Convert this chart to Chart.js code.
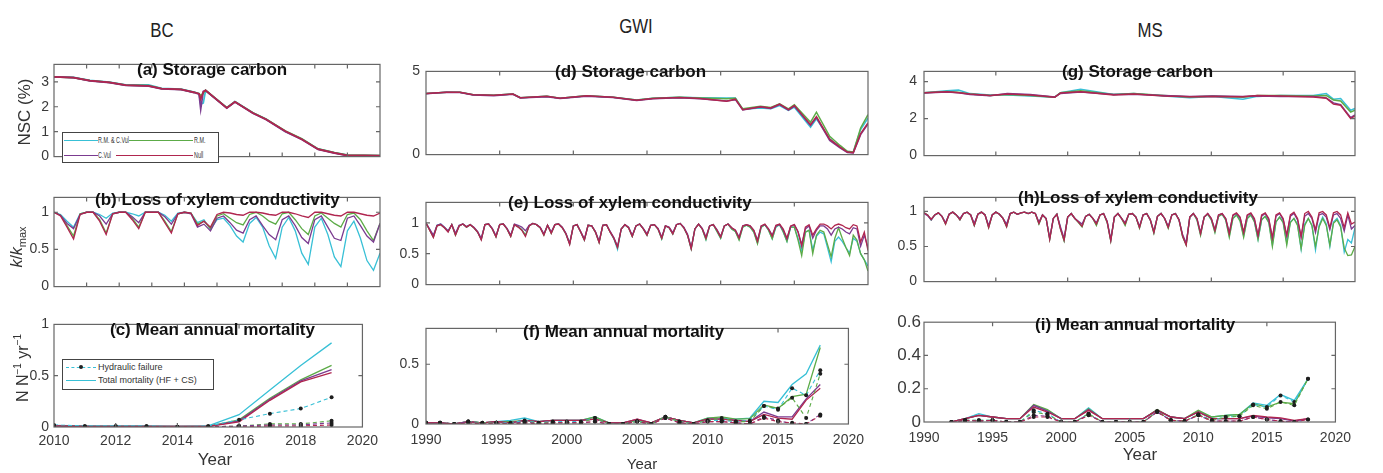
<!DOCTYPE html>
<html lang="en">
<head>
<meta charset="UTF-8">
<title>Storage carbon, xylem conductivity and mortality</title>
<script src="https://cdn.jsdelivr.net/npm/chart.js"></script>
<style>
  body { margin: 0; background: #fff; width: 1383px; height: 473px; position: relative; overflow: hidden;
         font-family: 'Liberation Sans', Arial, sans-serif; color: #222; }
  canvas { position: absolute; }
  .t { position: absolute; white-space: nowrap; }
  .hdr { font-size: 21px; transform: translate(-50%, -50%) scaleX(0.8); }
  .pt { font-size: 17px; font-weight: bold; color: #111; line-height: 20px; }
  .yt { font-size: 16px; color: #333; transform: translate(-50%, -50%) rotate(-90deg); }
  .xt { font-size: 16px; color: #333; transform: translate(-50%, -50%); }
  .leg { position: absolute; border: 1px solid #444; background: #fff; }
  .li { position: absolute; height: 0; }
  .lt { position: absolute; font-size: 9px; color: #333; white-space: nowrap; line-height: 10px; transform-origin: left center; }
  .dot { position: absolute; width: 4px; height: 4px; border-radius: 2px; background: #222; }
</style>
</head>
<body>

<div class="t hdr" style="left:162px;top:30px">BC</div>
<div class="t hdr" style="left:636px;top:26px">GWI</div>
<div class="t hdr" style="left:1150px;top:30px">MS</div>

<canvas id="pa" width="380" height="119" style="left:4px;top:51px"></canvas>
<canvas id="pb" width="380" height="116" style="left:4px;top:184px"></canvas>
<canvas id="pc" width="380" height="142" style="left:4px;top:311px"></canvas>
<canvas id="pd" width="488" height="112" style="left:384px;top:57px"></canvas>
<canvas id="pe" width="488" height="113" style="left:384px;top:187px"></canvas>
<canvas id="pf" width="488" height="137" style="left:384px;top:313px"></canvas>
<canvas id="pg" width="481" height="115" style="left:878px;top:56px"></canvas>
<canvas id="ph" width="481" height="115" style="left:878px;top:182px"></canvas>
<canvas id="pi" width="481" height="139" style="left:878px;top:309px"></canvas>

<div class="t pt" style="left:137px;top:60px">(a) Storage carbon</div>
<div class="t pt" style="left:95px;top:190px">(b) Loss of xylem conductivity</div>
<div class="t pt" style="left:110px;top:320px">(c) Mean annual mortality</div>
<div class="t pt" style="left:555px;top:62px">(d) Storage carbon</div>
<div class="t pt" style="left:508px;top:193px">(e) Loss of xylem conductivity</div>
<div class="t pt" style="left:523px;top:322px">(f) Mean annual mortality</div>
<div class="t pt" style="left:1062px;top:62px">(g) Storage carbon</div>
<div class="t pt" style="left:1018px;top:188px">(h)Loss of xylem conductivity</div>
<div class="t pt" style="left:1035px;top:315px">(i) Mean annual mortality</div>

<div class="t yt" style="left:25px;top:112px;font-size:17px">NSC (%)</div>
<div class="t yt" style="left:18px;top:247px"><i>k</i>/<i>k</i><sub style="font-size:11px">max</sub></div>
<div class="t yt" style="left:22px;top:368px">N N<sup style="font-size:10px">−1</sup> yr<sup style="font-size:10px">−1</sup></div>
<div class="t xt" style="left:215px;top:460px;font-size:17px">Year</div>
<div class="t xt" style="left:642px;top:463px;font-size:15px">Year</div>
<div class="t xt" style="left:1140px;top:455px;font-size:17px">Year</div>

<!-- legend of panel (a) -->
<div class="leg" style="left:62px;top:132px;width:155px;height:29px">
  <div class="li" style="left:1px;top:7px;width:34px;border-top:1.5px solid #38c0d6"></div>
  <div class="lt" style="left:35px;top:2px;transform:scaleX(0.6)">R.M. &amp; C.Vul</div>
  <div class="li" style="left:66px;top:7px;width:64px;border-top:1.5px solid #5cab47"></div>
  <div class="lt" style="left:131px;top:2px;transform:scaleX(0.6)">R.M.</div>
  <div class="li" style="left:1px;top:22px;width:34px;border-top:1.5px solid #7b3b90"></div>
  <div class="lt" style="left:35px;top:17px;transform:scaleX(0.6)">C.Vul</div>
  <div class="li" style="left:53px;top:22px;width:77px;border-top:1.5px solid #b0264f"></div>
  <div class="lt" style="left:131px;top:17px;transform:scaleX(0.6)">Null</div>
</div>

<!-- legend of panel (c) -->
<div class="leg" style="left:62px;top:359px;width:150px;height:29px">
  <div class="li" style="left:3px;top:7px;width:30px;border-top:1.5px dashed #38c0d6"></div>
  <div class="dot" style="left:16px;top:5px"></div>
  <div class="lt" style="left:35px;top:2px">Hydraulic failure</div>
  <div class="li" style="left:3px;top:20px;width:30px;border-top:1.5px solid #38c0d6"></div>
  <div class="lt" style="left:35px;top:15px">Total mortality (HF + CS)</div>
</div>

<script>
// ---------- BC (2010-2020) ----------
const aYears = [2010, 2010.6, 2011.1, 2011.7, 2012.2, 2012.9, 2013.3, 2013.9, 2014.3, 2014.45, 2014.5, 2014.58,
                2014.65, 2015.3, 2015.55, 2016.1, 2016.5, 2017.1, 2017.6, 2018.1, 2018.6, 2019.0, 2019.5, 2020];
const aNull = [3.2, 3.17, 3.05, 2.98, 2.87, 2.84, 2.73, 2.7, 2.58, 2.52, 2.3, 2.6, 2.66, 1.95, 2.2, 1.75, 1.5, 1.02, 0.7, 0.3, 0.15, 0.05, 0.05, 0.04];
const aCVul = [3.2, 3.17, 3.04, 2.97, 2.86, 2.83, 2.72, 2.69, 2.57, 2.5, 1.9, 2.62, 2.65, 1.94, 2.19, 1.74, 1.49, 1.0, 0.69, 0.29, 0.14, 0.04, 0.03, 0.03];
const aRM = [3.2, 3.17, 3.05, 2.98, 2.87, 2.85, 2.73, 2.7, 2.58, 2.52, 2.45, 2.55, 2.66, 1.96, 2.2, 1.76, 1.51, 1.03, 0.72, 0.31, 0.16, 0.06, 0.05, 0.04];
const aRMCV = [3.2, 3.18, 3.06, 2.99, 2.88, 2.88, 2.74, 2.71, 2.59, 2.53, 2.1, 2.15, 2.65, 1.96, 2.21, 1.76, 1.51, 1.01, 0.71, 0.31, 0.16, 0.06, 0.05, 0.04];

// k/kmax sampled every 0.2 yr from 2010
const bStart = 2010, bStep = 0.2;
const bNull = [1.0, 0.95, 0.8, 0.64, 0.97, 1.0, 1.0, 0.88, 0.7, 0.98, 1.0, 1.0, 0.9, 0.78, 1.0, 1.0, 1.0, 0.86, 0.72, 0.98,
               1.0, 0.99, 0.82, 0.88, 0.8, 0.97, 1.0, 0.99, 0.97, 0.96, 1.0, 1.0, 0.99, 0.97, 0.96, 1.0, 1.0, 0.98, 0.95, 0.93,
               1.0, 1.0, 0.98, 0.96, 0.95, 1.0, 1.0, 0.98, 0.96, 0.95, 0.99];
const bCVul = [1.0, 0.96, 0.85, 0.78, 0.97, 1.0, 1.0, 0.95, 0.84, 0.98, 1.0, 1.0, 0.94, 0.86, 1.0, 1.0, 1.0, 0.94, 0.84, 0.98,
               1.0, 0.98, 0.8, 0.84, 0.75, 0.92, 0.95, 0.86, 0.76, 0.72, 0.9, 0.95, 0.82, 0.7, 0.63, 0.9, 0.95, 0.82, 0.66, 0.58,
               0.9, 0.95, 0.8, 0.65, 0.62, 0.92, 0.95, 0.82, 0.68, 0.6, 0.85];
const bRM = [1.0, 0.96, 0.82, 0.68, 0.98, 1.0, 1.0, 0.9, 0.72, 0.98, 1.0, 1.0, 0.92, 0.8, 1.0, 1.0, 1.0, 0.88, 0.74, 0.98,
             1.0, 0.99, 0.84, 0.88, 0.78, 0.95, 0.98, 0.92, 0.86, 0.83, 0.97, 1.0, 0.95, 0.88, 0.84, 0.98, 1.0, 0.9, 0.78, 0.7,
             0.95, 0.99, 0.92, 0.85, 0.8, 0.97, 0.99, 0.9, 0.75, 0.62, 0.85];
const bRMCV = [1.0, 0.97, 0.88, 0.8, 0.98, 1.0, 1.0, 0.97, 0.92, 0.99, 1.0, 1.0, 0.98, 0.95, 1.0, 1.0, 1.0, 0.96, 0.88, 0.99,
               1.0, 0.99, 0.86, 0.9, 0.77, 0.9, 0.92, 0.82, 0.68, 0.6, 0.85, 0.93, 0.8, 0.55, 0.38, 0.8, 0.93, 0.75, 0.45, 0.3,
               0.8, 0.92, 0.7, 0.4, 0.27, 0.75, 0.88, 0.65, 0.35, 0.22, 0.45];

const cYears = [2010, 2011, 2012, 2013, 2014, 2015, 2016, 2017, 2018, 2019];
const cTotNull = [0.01, 0.005, 0.005, 0.005, 0.005, 0.005, 0.05, 0.26, 0.44, 0.53];
const cTotCVul = [0.01, 0.005, 0.005, 0.005, 0.005, 0.005, 0.06, 0.27, 0.45, 0.56];
const cTotRM = [0.01, 0.005, 0.005, 0.005, 0.005, 0.005, 0.07, 0.28, 0.46, 0.6];
const cTotRMCV = [0.015, 0.01, 0.01, 0.01, 0.005, 0.01, 0.12, 0.36, 0.6, 0.82];
const cHfNull = [0.01, 0.0, 0.0, 0.0, 0.0, 0.0, 0.0, 0.01, 0.01, 0.02];
const cHfCVul = [0.01, 0.0, 0.0, 0.0, 0.0, 0.0, 0.01, 0.02, 0.02, 0.04];
const cHfRM = [0.01, 0.0, 0.0, 0.0, 0.0, 0.0, 0.01, 0.03, 0.03, 0.06];
const cHfRMCV = [0.02, 0.01, 0.01, 0.01, 0.0, 0.01, 0.07, 0.13, 0.18, 0.29];

// ---------- GWI (1990-2020) ----------
const dYears = [1990, 1991.4, 1992.3, 1993.2, 1994.6, 1995.9, 1996.4, 1998.2, 1999.1, 2000.9, 2002.7, 2004.3, 2005.4, 2007.2, 2008.6,
                2010.4, 2011.0, 2011.5, 2012.7, 2013.4, 2014.0, 2014.6, 2015.0, 2016.1, 2016.5, 2017.4, 2018.1, 2018.6, 2019.0, 2019.5, 2020];
const dNull = [3.67, 3.75, 3.75, 3.6, 3.56, 3.64, 3.42, 3.5, 3.39, 3.53, 3.45, 3.27, 3.37, 3.43, 3.37, 3.2, 3.33, 2.7, 2.88, 2.8, 3.03, 2.7, 2.95, 1.8, 2.28, 0.93, 0.45, 0.15, 0.12, 1.26, 1.9];
const dCVul = [3.66, 3.74, 3.73, 3.58, 3.54, 3.62, 3.4, 3.48, 3.37, 3.51, 3.43, 3.25, 3.35, 3.41, 3.35, 3.22, 3.3, 2.68, 2.86, 2.77, 3.0, 2.68, 2.92, 1.75, 2.22, 0.85, 0.4, 0.12, 0.1, 1.2, 1.85];
const dRM = [3.67, 3.75, 3.75, 3.6, 3.56, 3.64, 3.42, 3.5, 3.39, 3.53, 3.45, 3.28, 3.38, 3.44, 3.4, 3.35, 3.38, 2.75, 2.9, 2.83, 3.05, 2.75, 3.0, 1.95, 2.55, 1.1, 0.55, 0.2, 0.15, 1.6, 2.4];
const dRMCV = [3.67, 3.75, 3.75, 3.6, 3.56, 3.64, 3.42, 3.5, 3.39, 3.53, 3.45, 3.28, 3.38, 3.44, 3.42, 3.4, 3.4, 2.72, 2.8, 2.75, 2.95, 2.65, 2.85, 1.65, 2.15, 0.95, 0.45, 0.18, 0.15, 1.5, 2.2];

// k/kmax sampled every quarter from 1990 (one group of four per year)
const qStart = 1990, qStep = 0.25;
const eNull = [
  1.0, 0.88, 0.76, 0.95,  0.97, 0.92, 0.85, 0.97,  0.8, 0.95, 0.98, 0.93,  0.97, 0.92, 0.85, 0.72,  0.97, 0.98, 0.9, 0.77,
  0.97, 0.98, 0.9, 0.78,  0.97, 0.93, 0.88, 0.78,  0.95, 0.99, 0.97, 0.92,  0.8, 0.96, 0.83, 0.97,  0.98, 0.92, 0.82, 0.65,
  0.95, 0.97, 0.85, 0.72,  0.96, 0.95, 0.85, 0.68,  0.96, 0.97, 0.85, 0.75,  0.6, 0.9, 0.97, 0.92,  0.78, 0.95, 0.98, 0.9,
  0.8, 0.96, 0.97, 0.9,  0.75, 0.95, 0.92, 0.82,  0.97, 0.99, 0.92, 0.8,  0.58, 0.9, 0.98, 0.9,  0.75, 0.95, 0.97, 0.88,
  0.77, 0.95, 0.98, 0.92,  0.88, 0.75, 0.95, 0.97,  0.95, 0.88, 0.7, 0.95,  0.98, 0.9, 0.78, 0.96,  0.98, 0.9, 0.75, 0.95,
  0.97, 0.85, 0.62, 0.93,  0.97, 0.8, 0.9, 0.98,  0.98, 0.95, 0.9, 0.96,  0.98, 0.96, 0.92, 0.9,  0.97, 0.95, 0.69, 0.85,
  0.55];
const eCVul = [
  0.99, 0.9, 0.8, 0.96,  0.98, 0.93, 0.87, 0.97,  0.83, 0.96, 0.98, 0.94,  0.97, 0.93, 0.86, 0.75,  0.97, 0.98, 0.91, 0.79,
  0.97, 0.98, 0.91, 0.8,  0.98, 0.96, 0.93, 0.87,  0.96, 0.99, 0.97, 0.93,  0.82, 0.96, 0.85, 0.97,  0.98, 0.93, 0.83, 0.67,
  0.95, 0.97, 0.86, 0.74,  0.96, 0.95, 0.86, 0.7,  0.96, 0.97, 0.86, 0.76,  0.62, 0.9, 0.97, 0.93,  0.8, 0.95, 0.98, 0.91,
  0.82, 0.96, 0.97, 0.91,  0.77, 0.95, 0.93, 0.84,  0.97, 0.99, 0.93, 0.82,  0.6, 0.9, 0.98, 0.91,  0.77, 0.95, 0.97, 0.89,
  0.78, 0.95, 0.98, 0.92,  0.88, 0.77, 0.95, 0.97,  0.95, 0.88, 0.72, 0.95,  0.97, 0.9, 0.8, 0.95,  0.97, 0.88, 0.74, 0.94,
  0.97, 0.86, 0.65, 0.9,  0.95, 0.75, 0.88, 0.95,  0.95, 0.9, 0.8, 0.9,  0.93, 0.9, 0.85, 0.82,  0.92, 0.9, 0.62, 0.8,
  0.6];
const eRM = [
  1.0, 0.88, 0.77, 0.95,  0.97, 0.92, 0.86, 0.97,  0.8, 0.95, 0.98, 0.93,  0.97, 0.92, 0.85, 0.73,  0.97, 0.98, 0.9, 0.77,
  0.97, 0.98, 0.9, 0.78,  0.97, 0.94, 0.89, 0.8,  0.95, 0.99, 0.97, 0.92,  0.8, 0.96, 0.83, 0.97,  0.98, 0.92, 0.82, 0.66,
  0.95, 0.97, 0.85, 0.72,  0.96, 0.95, 0.85, 0.68,  0.96, 0.97, 0.85, 0.75,  0.6, 0.9, 0.97, 0.92,  0.78, 0.95, 0.98, 0.9,
  0.8, 0.96, 0.97, 0.9,  0.74, 0.95, 0.92, 0.82,  0.97, 0.99, 0.92, 0.8,  0.58, 0.9, 0.98, 0.9,  0.73, 0.95, 0.97, 0.86,
  0.75, 0.95, 0.98, 0.9,  0.86, 0.72, 0.93, 0.96,  0.93, 0.85, 0.66, 0.93,  0.97, 0.88, 0.74, 0.94,  0.97, 0.85, 0.7, 0.93,
  0.93, 0.72, 0.47, 0.85,  0.88, 0.5, 0.8, 0.88,  0.85, 0.65, 0.45, 0.75,  0.92, 0.75, 0.6, 0.47,  0.8, 0.72, 0.5, 0.4,
  0.22];
const eRMCV = [
  1.0, 0.89, 0.78, 0.96,  0.98, 0.93, 0.86, 0.97,  0.81, 0.95, 0.98, 0.93,  0.97, 0.92, 0.85, 0.73,  0.97, 0.98, 0.9, 0.78,
  0.97, 0.98, 0.9, 0.79,  0.97, 0.94, 0.89, 0.8,  0.95, 0.99, 0.97, 0.92,  0.81, 0.96, 0.84, 0.97,  0.98, 0.92, 0.82, 0.66,
  0.95, 0.97, 0.85, 0.72,  0.96, 0.95, 0.85, 0.69,  0.96, 0.97, 0.85, 0.74,  0.57, 0.9, 0.97, 0.92,  0.78, 0.95, 0.98, 0.9,
  0.8, 0.96, 0.97, 0.9,  0.74, 0.95, 0.92, 0.82,  0.97, 0.99, 0.92, 0.8,  0.58, 0.9, 0.98, 0.9,  0.73, 0.95, 0.97, 0.86,
  0.75, 0.95, 0.98, 0.9,  0.86, 0.73, 0.93, 0.96,  0.93, 0.85, 0.67, 0.93,  0.97, 0.88, 0.74, 0.93,  0.97, 0.85, 0.7, 0.93,
  0.93, 0.75, 0.55, 0.85,  0.88, 0.56, 0.78, 0.85,  0.82, 0.6, 0.37, 0.7,  0.77, 0.7, 0.6, 0.51,  0.75, 0.7, 0.5, 0.4,
  0.3];

const fYears = [1990, 1991, 1992, 1993, 1994, 1995, 1996, 1997, 1998, 1999, 2000, 2001, 2002, 2003, 2004,
                2005, 2006, 2007, 2008, 2009, 2010, 2011, 2012, 2013, 2014, 2015, 2016, 2017, 2018];
const fTotNull = [0.01, 0.01, 0.0, 0.02, 0.01, 0.02, 0.01, 0.03, 0.02, 0.03, 0.03, 0.03, 0.04, 0.01, 0.01, 0.04, 0.01, 0.06, 0.03, 0.01, 0.04, 0.04, 0.03, 0.02, 0.08, 0.05, 0.04, 0.2, 0.3];
const fTotCVul = [0.01, 0.01, 0.0, 0.02, 0.01, 0.02, 0.01, 0.03, 0.02, 0.03, 0.03, 0.03, 0.04, 0.01, 0.01, 0.04, 0.01, 0.06, 0.03, 0.01, 0.04, 0.04, 0.03, 0.02, 0.1, 0.06, 0.06, 0.21, 0.33];
const fTotRM = [0.01, 0.01, 0.0, 0.02, 0.01, 0.02, 0.02, 0.03, 0.02, 0.03, 0.03, 0.03, 0.06, 0.01, 0.01, 0.03, 0.01, 0.06, 0.03, 0.01, 0.05, 0.06, 0.04, 0.045, 0.16, 0.13, 0.23, 0.25, 0.64];
const fTotRMCV = [0.01, 0.01, 0.0, 0.02, 0.01, 0.02, 0.03, 0.05, 0.02, 0.03, 0.03, 0.03, 0.06, 0.01, 0.01, 0.03, 0.01, 0.06, 0.03, 0.01, 0.05, 0.05, 0.04, 0.05, 0.19, 0.18, 0.33, 0.42, 0.66];
const fHfNull = [0.01, 0.01, 0.0, 0.01, 0.0, 0.01, 0.0, 0.01, 0.0, 0.01, 0.01, 0.01, 0.02, 0.0, 0.0, 0.02, 0.0, 0.05, 0.01, 0.0, 0.02, 0.02, 0.01, 0.0, 0.05, 0.02, 0.01, 0.0, 0.07];
const fHfCVul = [0.01, 0.01, 0.0, 0.02, 0.0, 0.01, 0.0, 0.02, 0.0, 0.01, 0.01, 0.01, 0.02, 0.0, 0.0, 0.02, 0.0, 0.05, 0.01, 0.0, 0.02, 0.02, 0.01, 0.0, 0.06, 0.03, 0.0, 0.0, 0.08];
const fHfRM = [0.01, 0.01, 0.0, 0.02, 0.01, 0.01, 0.0, 0.02, 0.01, 0.01, 0.01, 0.01, 0.05, 0.0, 0.0, 0.02, 0.0, 0.06, 0.02, 0.0, 0.03, 0.05, 0.02, 0.02, 0.15, 0.13, 0.22, 0.05, 0.42];
const fHfRMCV = [0.01, 0.01, 0.0, 0.02, 0.01, 0.01, 0.01, 0.03, 0.01, 0.02, 0.02, 0.02, 0.05, 0.0, 0.0, 0.02, 0.0, 0.06, 0.02, 0.0, 0.03, 0.03, 0.02, 0.03, 0.15, 0.12, 0.3, 0.24, 0.45];

// ---------- MS (1990-2020) ----------
const gYears = [1990, 1991.6, 1992.4, 1993.2, 1994.6, 1995.8, 1997.4, 1999.1, 1999.5, 2000.9, 2003.2, 2004.6,
                2006.7, 2008.5, 2010.1, 2012.2, 2013.2, 2014.8, 2017.1, 2018.0, 2018.5, 2019.0, 2019.7, 2020];
const gNull = [3.39, 3.45, 3.4, 3.33, 3.25, 3.33, 3.27, 3.15, 3.38, 3.45, 3.27, 3.33, 3.22, 3.18, 3.2, 3.18, 3.25, 3.22, 3.17, 3.1, 2.78, 2.72, 2.0, 2.15];
const gCVul = [3.38, 3.44, 3.4, 3.3, 3.24, 3.36, 3.3, 3.17, 3.36, 3.44, 3.3, 3.32, 3.25, 3.2, 3.22, 3.2, 3.22, 3.2, 3.19, 3.12, 2.85, 2.75, 2.05, 2.2];
const gRM = [3.39, 3.47, 3.43, 3.33, 3.25, 3.3, 3.25, 3.16, 3.4, 3.5, 3.3, 3.35, 3.25, 3.17, 3.22, 3.15, 3.25, 3.25, 3.22, 3.25, 3.0, 2.95, 2.35, 2.45];
const gRMCV = [3.39, 3.5, 3.54, 3.35, 3.27, 3.28, 3.22, 3.15, 3.4, 3.58, 3.3, 3.35, 3.22, 3.12, 3.2, 3.05, 3.2, 3.25, 3.25, 3.35, 3.05, 3.08, 2.45, 2.55];

const hNull = [
  0.98, 0.95, 0.89, 0.95,  0.98, 0.93, 0.82, 0.96,  0.99, 0.95, 0.88, 0.97,  0.99, 0.95, 0.8, 0.96,  0.99, 0.95, 0.77, 0.95,
  0.99, 0.96, 0.9, 0.78,  0.97, 0.99, 0.96, 0.98,  0.99, 0.97, 0.99, 0.97,  0.83, 0.95, 0.9, 0.6,  0.9, 0.96, 0.75, 0.59,
  0.92, 0.97, 0.9, 0.85,  0.79, 0.93, 0.96, 0.9,  0.82, 0.95, 0.97, 0.85,  0.58, 0.92, 0.97, 0.9,  0.82, 0.96, 0.97, 0.92,
  0.77, 0.95, 0.97, 0.88,  0.7, 0.93, 0.97, 0.9,  0.77, 0.95, 0.97, 0.88,  0.65, 0.52, 0.92, 0.97,  0.9, 0.68, 0.92, 0.97,
  0.9, 0.73, 0.95, 0.97,  0.9, 0.68, 0.95, 0.98,  0.92, 0.7, 0.95, 0.98,  0.9, 0.66, 0.95, 0.98,  0.9, 0.62, 0.95, 0.98,
  0.9, 0.66, 0.95, 0.99,  0.9, 0.64, 0.97, 1.0,  0.92, 0.74, 0.98, 1.0,  0.95, 0.77, 0.98, 1.0,  0.95, 0.77, 0.98, 0.82,
  0.85];
const hCVul = [
  0.97, 0.94, 0.88, 0.95,  0.98, 0.93, 0.84, 0.96,  0.99, 0.95, 0.9, 0.97,  0.99, 0.95, 0.83, 0.96,  0.99, 0.95, 0.8, 0.95,
  0.99, 0.96, 0.9, 0.82,  0.97, 0.99, 0.96, 0.98,  0.99, 0.97, 0.99, 0.97,  0.85, 0.95, 0.9, 0.62,  0.9, 0.96, 0.78, 0.62,
  0.92, 0.97, 0.9, 0.86,  0.82, 0.93, 0.96, 0.9,  0.84, 0.95, 0.97, 0.86,  0.6, 0.92, 0.97, 0.9,  0.84, 0.96, 0.97, 0.92,
  0.79, 0.95, 0.97, 0.88,  0.72, 0.93, 0.97, 0.9,  0.79, 0.95, 0.97, 0.88,  0.67, 0.55, 0.92, 0.97,  0.9, 0.7, 0.92, 0.97,
  0.9, 0.74, 0.95, 0.97,  0.9, 0.7, 0.94, 0.97,  0.91, 0.7, 0.94, 0.97,  0.88, 0.66, 0.93, 0.97,  0.88, 0.62, 0.93, 0.97,
  0.88, 0.65, 0.93, 0.97,  0.88, 0.63, 0.93, 0.97,  0.9, 0.7, 0.95, 0.97,  0.92, 0.74, 0.95, 0.97,  0.9, 0.72, 0.95, 0.75,
  0.8];
const hRM = [
  0.98, 0.95, 0.88, 0.95,  0.98, 0.93, 0.82, 0.96,  0.99, 0.95, 0.88, 0.97,  0.99, 0.95, 0.8, 0.96,  0.99, 0.95, 0.77, 0.95,
  0.99, 0.96, 0.9, 0.78,  0.97, 0.99, 0.96, 0.98,  0.99, 0.97, 0.99, 0.97,  0.82, 0.95, 0.9, 0.6,  0.9, 0.96, 0.75, 0.58,
  0.92, 0.97, 0.9, 0.84,  0.78, 0.93, 0.96, 0.9,  0.8, 0.95, 0.97, 0.84,  0.58, 0.92, 0.97, 0.9,  0.8, 0.96, 0.97, 0.92,
  0.76, 0.95, 0.97, 0.88,  0.69, 0.93, 0.97, 0.9,  0.76, 0.95, 0.97, 0.88,  0.64, 0.52, 0.92, 0.97,  0.88, 0.66, 0.92, 0.96,
  0.88, 0.7, 0.93, 0.96,  0.88, 0.63, 0.9, 0.95,  0.86, 0.63, 0.9, 0.95,  0.85, 0.6, 0.88, 0.93,  0.84, 0.5, 0.85, 0.92,
  0.84, 0.52, 0.84, 0.9,  0.8, 0.47, 0.8, 0.9,  0.8, 0.5, 0.78, 0.9,  0.8, 0.52, 0.83, 0.88,  0.78, 0.48, 0.37, 0.38,
  0.5];
const hRMCV = [
  0.98, 0.95, 0.88, 0.95,  0.98, 0.93, 0.83, 0.96,  0.99, 0.95, 0.88, 0.97,  0.99, 0.95, 0.8, 0.96,  0.99, 0.95, 0.78, 0.95,
  0.99, 0.96, 0.9, 0.79,  0.97, 0.99, 0.96, 0.98,  0.99, 0.97, 0.99, 0.97,  0.83, 0.95, 0.9, 0.61,  0.9, 0.96, 0.76, 0.59,
  0.92, 0.97, 0.9, 0.85,  0.79, 0.93, 0.96, 0.9,  0.81, 0.95, 0.97, 0.85,  0.59, 0.92, 0.97, 0.9,  0.81, 0.96, 0.97, 0.92,
  0.77, 0.95, 0.97, 0.88,  0.7, 0.93, 0.97, 0.9,  0.77, 0.95, 0.97, 0.88,  0.65, 0.53, 0.92, 0.97,  0.88, 0.67, 0.92, 0.96,
  0.88, 0.71, 0.93, 0.96,  0.88, 0.65, 0.9, 0.95,  0.88, 0.65, 0.9, 0.95,  0.86, 0.6, 0.88, 0.93,  0.85, 0.52, 0.85, 0.92,
  0.85, 0.55, 0.85, 0.9,  0.82, 0.46, 0.82, 0.9,  0.8, 0.45, 0.8, 0.92,  0.82, 0.5, 0.85, 0.9,  0.8, 0.42, 0.6, 0.55,
  0.77];

const iYears = [1992, 1993, 1994, 1995, 1996, 1997, 1998, 1999, 2000, 2001, 2002, 2003, 2004, 2005,
                2006, 2007, 2008, 2009, 2010, 2011, 2012, 2013, 2014, 2015, 2016, 2017, 2018];
const iTotNull = [0.0, 0.02, 0.04, 0.03, 0.02, 0.02, 0.09, 0.06, 0.02, 0.02, 0.07, 0.02, 0.02, 0.02, 0.02, 0.07, 0.03, 0.02, 0.06, 0.02, 0.02, 0.02, 0.04, 0.03, 0.025, 0.01, 0.02];
const iTotCVul = [0.0, 0.02, 0.04, 0.03, 0.02, 0.02, 0.1, 0.065, 0.02, 0.02, 0.075, 0.02, 0.02, 0.02, 0.02, 0.07, 0.03, 0.02, 0.06, 0.02, 0.02, 0.02, 0.035, 0.025, 0.02, 0.005, 0.02];
const iTotRM = [0.0, 0.02, 0.04, 0.03, 0.02, 0.02, 0.105, 0.075, 0.02, 0.02, 0.08, 0.02, 0.02, 0.02, 0.02, 0.075, 0.03, 0.02, 0.07, 0.03, 0.04, 0.045, 0.11, 0.09, 0.12, 0.11, 0.26];
const iTotRMCV = [0.0, 0.02, 0.05, 0.03, 0.02, 0.02, 0.1, 0.07, 0.02, 0.02, 0.085, 0.02, 0.02, 0.02, 0.02, 0.07, 0.03, 0.02, 0.065, 0.03, 0.04, 0.045, 0.115, 0.1, 0.165, 0.13, 0.26];
const iHfNull = [0.0, 0.01, 0.005, 0.01, 0.0, 0.0, 0.03, 0.03, 0.0, 0.0, 0.04, 0.0, 0.0, 0.0, 0.0, 0.06, 0.01, 0.005, 0.04, 0.005, 0.005, 0.005, 0.03, 0.015, 0.005, 0.0, 0.015];
const iHfCVul = [0.0, 0.01, 0.005, 0.01, 0.0, 0.0, 0.04, 0.035, 0.0, 0.0, 0.045, 0.0, 0.0, 0.0, 0.0, 0.06, 0.01, 0.005, 0.04, 0.005, 0.005, 0.005, 0.03, 0.015, 0.005, 0.0, 0.015];
const iHfRM = [0.0, 0.01, 0.01, 0.01, 0.0, 0.0, 0.06, 0.045, 0.0, 0.0, 0.05, 0.0, 0.0, 0.0, 0.0, 0.065, 0.01, 0.005, 0.045, 0.01, 0.03, 0.035, 0.1, 0.08, 0.12, 0.1, 0.26];
const iHfRMCV = [0.0, 0.01, 0.01, 0.01, 0.0, 0.0, 0.07, 0.05, 0.0, 0.0, 0.05, 0.0, 0.0, 0.0, 0.0, 0.065, 0.01, 0.005, 0.045, 0.01, 0.03, 0.035, 0.105, 0.09, 0.16, 0.12, 0.26];

// ---------- drawing ----------
const COL = { nul: '#b0264f', cvul: '#7b3b90', rm: '#5cab47', rmcv: '#38c0d6' };
const FONT = "'Liberation Sans', Arial, sans-serif";

// regular time axis for the sampled series
function timeAxis(start, step, n) {
  const t = [];
  for (let i = 0; i < n; i++) t.push(+(start + i * step).toFixed(3));
  return t;
}
function pts(xs, ys) { return xs.map((x, i) => ({ x: x, y: ys[i] })); }

// Null listed first so it is drawn on top
function fourLines(xs, nul, cvul, rm, rmcv) {
  return [
    { data: pts(xs, nul), borderColor: COL.nul },
    { data: pts(xs, cvul), borderColor: COL.cvul },
    { data: pts(xs, rm), borderColor: COL.rm },
    { data: pts(xs, rmcv), borderColor: COL.rmcv }
  ];
}
function hfLines(xs, nul, cvul, rm, rmcv) {
  return fourLines(xs, nul, cvul, rm, rmcv).map(d => Object.assign(d, {
    borderDash: [4, 3], borderWidth: 1.1, pointRadius: 2,
    pointBackgroundColor: '#1e1e1e', pointBorderColor: '#1e1e1e', pointBorderWidth: 0
  }));
}

// MATLAB style box with inward ticks
const frame = {
  id: 'frame',
  afterDatasetsDraw(chart) {
    const { ctx, chartArea: a } = chart;
    const x = chart.scales.x, y = chart.scales.y;
    ctx.save();
    ctx.strokeStyle = '#666';
    ctx.lineWidth = 1.2;
    ctx.strokeRect(a.left, a.top, a.right - a.left, a.bottom - a.top);
    ctx.beginPath();
    x.ticks.forEach(t => {
      const p = x.getPixelForValue(t.value);
      if (p <= a.left + 1 || p >= a.right - 1) return;
      ctx.moveTo(p, a.bottom); ctx.lineTo(p, a.bottom - 4);
      ctx.moveTo(p, a.top); ctx.lineTo(p, a.top + 4);
    });
    y.ticks.forEach(t => {
      const p = y.getPixelForValue(t.value);
      if (p <= a.top + 1 || p >= a.bottom - 1) return;
      ctx.moveTo(a.left, p); ctx.lineTo(a.left + 4, p);
      ctx.moveTo(a.right, p); ctx.lineTo(a.right - 4, p);
    });
    ctx.stroke();
    ctx.restore();
  }
};

function panel(id, o) {
  const showX = !!o.xLabels;
  return new Chart(document.getElementById(id), {
    type: 'line',
    data: { datasets: o.datasets },
    options: {
      responsive: false,
      animation: false,
      events: [],
      layout: { autoPadding: false, padding: { top: 6, right: 4, left: 0, bottom: 0 } },
      plugins: { legend: { display: false }, tooltip: { enabled: false } },
      elements: { line: { tension: 0, borderWidth: o.lw || 1.3 }, point: { radius: 0 } },
      scales: {
        x: {
          type: 'linear', min: o.xMin, max: o.xMax,
          grid: { display: false, drawTicks: false }, border: { display: false },
          ticks: { display: showX, stepSize: o.xStep, includeBounds: false, autoSkip: false, maxRotation: 0,
                   padding: o.xPad || 6, font: { family: FONT, size: 14 }, color: '#3a3a3a', callback: v => String(v) },
          afterFit: s => { s.height = showX ? 26 : 3; }
        },
        y: {
          min: 0, max: o.yMax,
          grid: { display: false, drawTicks: false }, border: { display: false },
          ticks: { stepSize: o.yStep, includeBounds: false, padding: o.yPad || 5,
                   font: { family: FONT, size: o.yFontSize || 14 }, color: '#3a3a3a',
                   callback: v => String(+v.toFixed(2)) },
          afterFit: s => { s.width = o.yW; }
        }
      }
    },
    plugins: [frame]
  });
}

const bTime = timeAxis(bStart, bStep, bNull.length);
const qTime = timeAxis(qStart, qStep, eNull.length);

panel('pa', { xMin: 2010, xMax: 2020, xStep: 1, yMax: 3.7, yStep: 1, yW: 50, lw: 1.7,
  datasets: fourLines(aYears, aNull, aCVul, aRM, aRMCV) });
panel('pb', { xMin: 2010, xMax: 2020, xStep: 1, yMax: 1.2, yStep: 0.5, yW: 50,
  datasets: fourLines(bTime, bNull, bCVul, bRM, bRMCV) });
panel('pc', { xMin: 2010, xMax: 2020, xStep: 2, yMax: 1, yStep: 0.5, yW: 50, xLabels: true, xPad: 6,
  datasets: hfLines(cYears, cHfNull, cHfCVul, cHfRM, cHfRMCV).concat(fourLines(cYears, cTotNull, cTotCVul, cTotRM, cTotRMCV)) });

panel('pd', { xMin: 1990, xMax: 2020, xStep: 5, yMax: 5, yStep: 5, yW: 42, yPad: 6, lw: 1.5,
  datasets: fourLines(dYears, dNull, dCVul, dRM, dRMCV) });
panel('pe', { xMin: 1990, xMax: 2020, xStep: 5, yMax: 1.33, yStep: 0.5, yW: 42, yPad: 7,
  datasets: fourLines(qTime, eNull, eCVul, eRM, eRMCV) });
panel('pf', { xMin: 1990, xMax: 2020, xStep: 5, yMax: 0.8, yStep: 0.5, yW: 42, yPad: 7, xLabels: true, xPad: 8,
  datasets: hfLines(fYears, fHfNull, fHfCVul, fHfRM, fHfRMCV).concat(fourLines(fYears, fTotNull, fTotCVul, fTotRM, fTotRMCV)) });

panel('pg', { xMin: 1990, xMax: 2020, xStep: 5, yMax: 4.55, yStep: 2, yW: 46, yPad: 7, lw: 1.5,
  datasets: fourLines(gYears, gNull, gCVul, gRM, gRMCV) });
panel('ph', { xMin: 1990, xMax: 2020, xStep: 5, yMax: 1.2, yStep: 0.5, yW: 46, yPad: 7,
  datasets: fourLines(qTime, hNull, hCVul, hRM, hRMCV) });
panel('pi', { xMin: 1990, xMax: 2020, xStep: 5, yMax: 0.6, yStep: 0.2, yW: 46, yPad: 3, xLabels: true, xPad: 8, yFontSize: 17,
  datasets: hfLines(iYears, iHfNull, iHfCVul, iHfRM, iHfRMCV).concat(fourLines(iYears, iTotNull, iTotCVul, iTotRM, iTotRMCV)) });
</script>
</body>
</html>
